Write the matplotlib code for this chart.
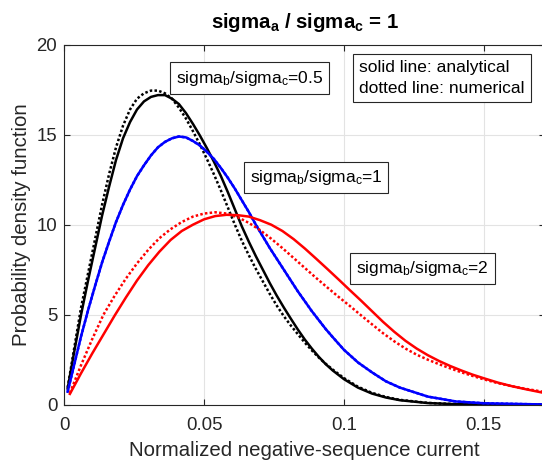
import matplotlib
matplotlib.use("Agg")
import matplotlib.pyplot as plt

plt.rcParams['font.family'] = ['Liberation Sans', 'DejaVu Sans']
plt.rcParams['mathtext.fontset'] = 'custom'
plt.rcParams['mathtext.rm'] = 'Liberation Sans'
plt.rcParams['mathtext.it'] = 'Liberation Sans:italic'
plt.rcParams['mathtext.bf'] = 'Liberation Sans:bold'

# sigma_b/sigma_c = 0.5 and 1 (same x samples)
x_05 = [0.0012, 0.0035, 0.006, 0.0085, 0.011, 0.0135, 0.016, 0.0185, 0.021, 0.0235,
        0.026, 0.0285, 0.031, 0.0335, 0.036, 0.0385, 0.041, 0.0435, 0.046, 0.0485,
        0.051, 0.0535, 0.056, 0.0585, 0.061, 0.0635, 0.066, 0.0685, 0.071, 0.0735,
        0.076, 0.0785, 0.081, 0.0835, 0.086, 0.0885, 0.091, 0.0935, 0.096, 0.1,
        0.105, 0.11, 0.115, 0.12, 0.13, 0.14, 0.15, 0.172]
y_05_ana = [0.9, 2.9, 5.0, 6.9, 8.7, 10.5, 12.1, 13.6, 14.8, 15.7,
            16.4, 16.85, 17.1, 17.2, 17.2, 17.0, 16.7, 16.2, 15.6, 14.95,
            14.25, 13.5, 12.7, 11.8, 10.85, 9.9, 9.05, 8.25, 7.5, 6.75,
            6.05, 5.4, 4.78, 4.18, 3.62, 3.12, 2.66, 2.25, 1.9, 1.42,
            0.95, 0.62, 0.4, 0.25, 0.09, 0.03, 0.01, 0.0]
y_05_num = [0.95, 3.1, 5.4, 7.3, 9.2, 11.1, 12.8, 14.3, 15.5, 16.4,
            17.0, 17.3, 17.45, 17.45, 17.3, 17.0, 16.5, 15.9, 15.2, 14.45,
            13.65, 12.8, 11.9, 10.95, 10.0, 9.1, 8.3, 7.55, 6.85, 6.15,
            5.5, 4.92, 4.4, 3.92, 3.45, 3.02, 2.62, 2.27, 1.95, 1.48,
            1.0, 0.66, 0.43, 0.27, 0.1, 0.03, 0.01, 0.0]
y_1_ana = [0.72, 2.2, 3.8, 5.25, 6.6, 7.9, 9.05, 10.15, 11.1, 11.95,
           12.7, 13.3, 13.85, 14.3, 14.6, 14.8, 14.9, 14.85, 14.65, 14.4,
           14.05, 13.65, 13.15, 12.6, 12.0, 11.35, 10.7, 10.0, 9.35, 8.7,
           8.1, 7.5, 6.9, 6.3, 5.75, 5.2, 4.7, 4.2, 3.75, 3.05,
           2.35, 1.8, 1.3, 0.95, 0.45, 0.18, 0.08, 0.01]
y_1_num = [0.72, 2.2, 3.8, 5.25, 6.6, 7.9, 9.05, 10.15, 11.1, 11.95,
           12.7, 13.3, 13.85, 14.3, 14.6, 14.8, 14.9, 14.85, 14.65, 14.4,
           14.05, 13.65, 13.15, 12.6, 12.0, 11.35, 10.7, 10.0, 9.35, 8.7,
           8.1, 7.5, 6.9, 6.3, 5.75, 5.2, 4.7, 4.2, 3.75, 3.05,
           2.35, 1.8, 1.3, 0.95, 0.45, 0.18, 0.08, 0.01]

# sigma_b/sigma_c = 2
x_2 = [0.002, 0.006, 0.01, 0.014, 0.018, 0.022, 0.026, 0.03, 0.034, 0.038,
       0.042, 0.046, 0.05, 0.054, 0.058, 0.062, 0.066, 0.07, 0.074, 0.078,
       0.082, 0.086, 0.09, 0.094, 0.098, 0.102, 0.106, 0.11, 0.114, 0.118,
       0.122, 0.126, 0.13, 0.134, 0.138, 0.142, 0.146, 0.15, 0.155, 0.16,
       0.165, 0.172]
y_2_ana = [0.6, 1.75, 2.85, 3.9, 4.95, 5.95, 6.9, 7.75, 8.5, 9.15,
           9.65, 10.0, 10.3, 10.48, 10.55, 10.53, 10.45, 10.25, 10.0, 9.65,
           9.2, 8.68, 8.12, 7.55, 6.97, 6.38, 5.8, 5.2, 4.6, 4.05,
           3.55, 3.12, 2.75, 2.43, 2.15, 1.9, 1.67, 1.47, 1.23, 1.03,
           0.86, 0.64]
y_2_num = [0.65, 2.2, 3.65, 5.0, 6.05, 7.0, 7.85, 8.6, 9.25, 9.75,
           10.15, 10.45, 10.62, 10.69, 10.62, 10.42, 10.1, 9.7, 9.22, 8.7,
           8.15, 7.6, 7.05, 6.52, 6.0, 5.5, 4.98, 4.47, 3.97, 3.52,
           3.12, 2.78, 2.5, 2.25, 2.02, 1.8, 1.6, 1.41, 1.2, 1.03,
           0.88, 0.7]

xticks = [0, 0.05, 0.1, 0.15]
xtick_labels = ['0', '0.05', '0.1', '0.15']
yticks = [0, 5, 10, 15, 20]

fig = plt.figure(figsize=(5.42, 4.63), dpi=100)
ax = fig.add_axes([64.3 / 542, 58.3 / 463, (545 - 64.3) / 542, 360 / 463])

dot = (0, (1.0, 0.9))
lw = 1.8
ax.plot(x_05, y_05_ana, color='k', lw=lw)
ax.plot(x_05, y_05_num, color='k', lw=lw, linestyle=dot)
ax.plot(x_05, y_1_ana, color='b', lw=lw)
ax.plot(x_05, y_1_num, color='b', lw=lw, linestyle=dot)
ax.plot(x_2, y_2_ana, color='r', lw=lw)
ax.plot(x_2, y_2_num, color='r', lw=lw, linestyle=dot)

ax.set_xlim(0, 0.1719)
ax.set_ylim(0, 20)
ax.set_xticks(xticks)
ax.set_xticklabels(xtick_labels)
ax.set_yticks(yticks)
ax.grid(True, color='#e3e3e3', lw=0.8)
ax.set_axisbelow(True)
ax.tick_params(direction='in', top=True, right=True, length=4, width=0.8,
               color='#262626', labelsize=13.4, labelcolor='#262626')
ax.tick_params(axis='x', pad=9)
ax.tick_params(axis='y', pad=5)
for s in ax.spines.values():
    s.set_color('#262626')
    s.set_linewidth(0.8)

ax.set_xlabel('Normalized negative-sequence current', fontsize=14.7, color='#262626', labelpad=5)
ax.set_ylabel('Probability density function', fontsize=14.7, color='#262626', labelpad=4)
ax.set_title(r'sigma$_\mathbf{a}$ / sigma$_\mathbf{c}$ = 1', fontsize=14.7,
             fontweight='bold', pad=12)

box = dict(boxstyle='square,pad=0.35', facecolor='white', edgecolor='#262626', lw=0.8)
ax.text(0.0662, 18.15, r'sigma$_\mathrm{b}$/sigma$_\mathrm{c}$=0.5', fontsize=12.5,
        ha='center', va='center', bbox=box)
ax.text(0.135, 18.15, 'solid line: analytical\ndotted line: numerical', fontsize=12.5,
        ha='center', va='center', linespacing=1.45, bbox=box, multialignment='left')
ax.text(0.09, 12.61, r'sigma$_\mathrm{b}$/sigma$_\mathrm{c}$=1', fontsize=12.5,
        ha='center', va='center', bbox=box)
ax.text(0.128, 7.58, r'sigma$_\mathrm{b}$/sigma$_\mathrm{c}$=2', fontsize=12.5,
        ha='center', va='center', bbox=box)

fig.savefig('out.png', dpi=100)
